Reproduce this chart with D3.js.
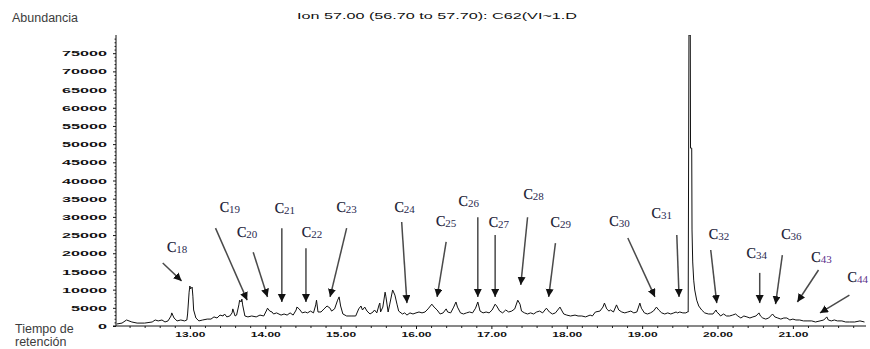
<!DOCTYPE html>
<html><head><meta charset="utf-8">
<script src="https://cdn.jsdelivr.net/npm/d3@7"></script>
<style>html,body{margin:0;padding:0;background:#fff;} svg{display:block;}</style>
</head><body><svg id="chart" width="870" height="349"></svg>
<script>
// ---- data ----
const retentionTimes = [12.03,12.10,12.16,12.23,12.30,12.40,12.50,12.54,12.58,12.63,12.67,12.71,12.75,12.76,12.79,12.83,12.88,12.93,12.96,12.97,12.99,13.00,13.01,13.03,13.04,13.05,13.08,13.12,13.17,13.23,13.28,13.32,13.36,13.40,13.44,13.46,13.49,13.53,13.56,13.57,13.60,13.62,13.65,13.66,13.68,13.69,13.70,13.73,13.77,13.82,13.88,13.93,13.98,14.02,14.03,14.06,14.09,14.11,14.15,14.21,14.25,14.29,14.33,14.37,14.41,14.42,14.45,14.49,14.53,14.56,14.60,14.64,14.67,14.68,14.70,14.74,14.78,14.82,14.86,14.88,14.92,14.96,14.98,15.00,15.03,15.08,15.15,15.20,15.24,15.27,15.29,15.32,15.35,15.39,15.43,15.45,15.48,15.51,15.52,15.53,15.56,15.59,15.60,15.63,15.65,15.69,15.72,15.75,15.77,15.82,15.85,15.88,15.92,15.96,16.00,16.04,16.08,16.12,16.16,16.21,16.24,16.28,16.32,16.36,16.40,16.42,16.46,16.50,16.53,16.55,16.59,16.63,16.67,16.71,16.75,16.79,16.82,16.85,16.89,16.93,16.97,17.01,17.05,17.07,17.11,17.15,17.19,17.23,17.27,17.31,17.35,17.38,17.40,17.44,17.48,17.52,17.56,17.60,17.64,17.68,17.73,17.77,17.81,17.85,17.91,17.93,17.96,18.00,18.05,18.11,18.15,18.20,18.25,18.31,18.34,18.38,18.44,18.48,18.50,18.53,18.56,18.58,18.62,18.66,18.69,18.73,18.77,18.81,18.85,18.89,18.93,18.97,18.99,19.03,19.07,19.11,19.15,19.19,19.22,19.26,19.30,19.34,19.38,19.42,19.45,19.47,19.50,19.54,19.58,19.600,19.611,19.621,19.639,19.642,19.658,19.662,19.671,19.684,19.698,19.724,19.751,19.79,19.83,19.88,19.94,19.98,19.99,20.02,20.04,20.08,20.12,20.16,20.20,20.24,20.27,20.31,20.35,20.39,20.43,20.47,20.51,20.55,20.57,20.60,20.64,20.68,20.73,20.76,20.80,20.84,20.88,20.92,20.96,21.00,21.04,21.09,21.14,21.20,21.25,21.30,21.36,21.41,21.45,21.47,21.51,21.55,21.59,21.65,21.70,21.75,21.82,21.89,21.95];
const abundance = [550,800,1650,1100,800,800,1100,1650,1400,1650,1100,1400,2750,3600,2200,1400,1650,1400,1650,3300,9300,11000,10200,10700,8200,4400,2200,1400,1650,1900,1900,2500,2200,3000,2750,3300,2500,2750,3600,4700,2750,3000,5800,7100,6600,7400,5800,2750,2500,2750,2500,3000,2750,4400,4900,4100,3850,3300,3600,3000,3300,3000,3600,3000,4400,5200,4700,3600,3850,3600,4100,3600,5800,7100,3850,3850,4700,5500,4900,4100,4700,7100,8000,5500,3300,2750,2750,2750,4700,5500,4400,5200,4100,3300,3850,4400,3600,5800,6300,3850,5200,9300,8200,3850,5800,9900,8500,5800,4100,3300,3600,3000,3600,3300,3600,3850,3600,3850,4700,6000,5200,4400,3300,3600,4700,3850,3600,5200,6600,5200,3600,3300,3600,3850,3600,4900,6600,4100,3600,3850,3600,4400,6000,5500,4100,3600,4400,3850,4100,4700,7100,6000,4100,3600,3300,3600,3300,3850,4100,3600,4900,3850,3300,3600,5200,4400,3300,3000,2750,3000,2750,2750,2500,3000,2750,3850,4100,5200,6300,4700,4100,4400,3850,5800,4400,3850,3600,3850,4100,3600,3850,6300,4900,3600,3300,3600,4100,5200,4400,3600,3300,3600,3300,3600,3850,3600,3850,3600,3600,3850,3850,80000,80000,48900,48900,26400,17600,12600,9900,7100,5500,4400,3600,3300,3300,4400,3850,3300,2750,3300,2750,2750,3000,3300,2750,2200,2750,2500,2200,2500,2750,3600,2750,2200,1900,2200,3300,2500,2200,1900,2200,2200,1650,1900,1650,1650,1400,1400,1400,1100,1400,1650,2500,1650,1400,1650,1400,1400,1100,1100,1100,1400,1100];

const xTickValues = [13,14,15,16,17,18,19,20,21];
const xTickLabels = ["13.00","14.00","15.00","16.00","17.00","18.00","19.00","20.00","21.00"];
const yTickValues = [0,5000,10000,15000,20000,25000,30000,35000,40000,45000,50000,55000,60000,65000,70000,75000];
const yTickLabels = ["0","5000","10000","15000","20000","25000","30000","35000","40000","45000","50000","55000","60000","65000","70000","75000"];

const peakNames   = ["18","19","20","21","22","23","24","25","26","27","28","29","30","31","32","34","36","43","44"];
const labelTime   = [12.83,13.53,13.76,14.26,14.62,15.08,15.85,16.40,16.70,17.10,17.56,17.92,18.70,19.26,20.02,20.52,20.98,21.38,21.86];
const labelAbund  = [21700,32700,25800,32400,25800,32700,32700,28800,34300,28600,36300,28600,28800,31000,25300,20100,25300,18900,13500];
const arrowTime0  = [12.64,13.34,13.84,14.22,14.54,15.08,15.81,16.40,16.82,17.05,17.48,17.85,18.81,19.46,19.91,20.56,20.86,21.34,21.75];
const arrowAbund0 = [17300,26900,20300,26900,21400,26900,28600,23100,29900,25000,29900,22800,24200,25000,20900,14600,19500,15400,8500];
const arrowTime1  = [12.89,13.76,14.03,14.22,14.54,14.86,15.88,16.28,16.82,17.05,17.39,17.76,19.17,19.49,19.99,20.56,20.77,21.06,21.36];
const arrowAbund1 = [12400,7100,8000,6600,6600,8000,6300,8000,8000,8000,11300,8000,8000,8000,6300,6300,6000,6600,3600];

const titleText = "Ion  57.00 (56.70 to 57.70): C62(VI~1.D";

// ---- drawing ----
const svg = d3.select("#chart");
const x = d3.scaleLinear().domain([12.02, 21.97]).range([116, 866]);
const y = d3.scaleLinear().domain([0, 80000]).range([326, 35]);

svg.append("defs").append("clipPath").attr("id","plotclip")
  .append("rect").attr("x",116).attr("y",y(80000)).attr("width",752).attr("height",y(0)-y(80000)+1);

const marker = svg.select("defs").append("marker")
  .attr("id","ah").attr("markerUnits","userSpaceOnUse")
  .attr("markerWidth",9).attr("markerHeight",9).attr("refX",8).attr("refY",4)
  .attr("orient","auto");
marker.append("path").attr("d","M0,0 L8,4 L0,8 z").attr("fill","#111");

// title texts
svg.append("text").attr("x",12).attr("y",21.5).text("Abundancia")
  .attr("font-family","Liberation Sans, Arial, sans-serif").attr("font-size",12.5).attr("fill","#3c3c3c");
svg.append("text").attr("x",297).attr("y",19).text(titleText)
  .attr("font-family","Liberation Sans, Arial, sans-serif").attr("font-size",8.5)
  .attr("textLength",280).attr("lengthAdjust","spacingAndGlyphs").attr("fill","#111");
svg.append("text").attr("x",15).attr("y",333).text("Tiempo de")
  .attr("font-family","Liberation Sans, Arial, sans-serif").attr("font-size",12.5).attr("fill","#3c3c3c");
svg.append("text").attr("x",15).attr("y",346).text("retención")
  .attr("font-family","Liberation Sans, Arial, sans-serif").attr("font-size",12.5).attr("fill","#3c3c3c");

// y axis
const yMinor = d3.range(0, 80001, 1000).filter(v => v % 5000 !== 0);
svg.append("g").attr("transform","translate(116,0)")
  .call(d3.axisLeft(y).tickValues(yMinor).tickSize(1.5).tickFormat(""))
  .call(g => g.select(".domain").remove())
  .selectAll("line").attr("stroke","#222");
const yAx = svg.append("g").attr("transform","translate(116,0)")
  .call(d3.axisLeft(y).tickValues(yTickValues).tickSize(3).tickPadding(6)
        .tickFormat((d,i) => yTickLabels[i]));
yAx.select(".domain").attr("d", `M0,${y(80000)}V${y(0)}`).attr("stroke","#111");
yAx.selectAll("line").attr("stroke","#111");
yAx.selectAll("text")
  .attr("font-family","Liberation Sans, Arial, sans-serif").attr("font-weight","bold")
  .attr("font-size",8).attr("fill","#111")
  .attr("textLength", function(){ return this.textContent.length * 9; })
  .attr("lengthAdjust","spacingAndGlyphs");

// x axis
const xMinor = d3.range(12.2, 21.95, 0.2).filter(v => Math.abs(v - Math.round(v)) > 0.01);
svg.append("g").attr("transform",`translate(0,${y(0)})`)
  .call(d3.axisBottom(x).tickValues(xMinor).tickSize(2).tickFormat(""))
  .call(g => g.select(".domain").remove())
  .selectAll("line").attr("stroke","#222");
const xAx = svg.append("g").attr("transform",`translate(0,${y(0)})`)
  .call(d3.axisBottom(x).tickValues(xTickValues).tickSize(3).tickPadding(2.5)
        .tickFormat((d,i) => xTickLabels[i]));
xAx.select(".domain").attr("d", `M${x(12.02)-3},0H${x(21.97)}`).attr("stroke","#111");
xAx.selectAll("line").attr("stroke","#111");
xAx.selectAll("text")
  .attr("font-family","Liberation Sans, Arial, sans-serif").attr("font-weight","bold")
  .attr("font-size",8).attr("fill","#111")
  .attr("textLength",30).attr("lengthAdjust","spacingAndGlyphs");

// trace
const pts = retentionTimes.map((t,i) => [t, abundance[i]]);
svg.append("path").datum(pts)
  .attr("clip-path","url(#plotclip)")
  .attr("fill","none").attr("stroke","#111").attr("stroke-width",1)
  .attr("stroke-linejoin","round")
  .attr("d", d3.line().x(d => x(d[0])).y(d => y(d[1])));

// annotations
const ann = peakNames.map((n,i) => ({n, lt:labelTime[i], la:labelAbund[i],
  t0:arrowTime0[i], a0:arrowAbund0[i], t1:arrowTime1[i], a1:arrowAbund1[i]}));

svg.append("g").selectAll("line").data(ann).join("line")
  .attr("x1", d => x(d.t0)).attr("y1", d => y(d.a0))
  .attr("x2", d => x(d.t1)).attr("y2", d => y(d.a1))
  .attr("stroke","#4a4a4a").attr("stroke-width",1.5)
  .attr("marker-end","url(#ah)");

const lab = svg.append("g").selectAll("text").data(ann).join("text")
  .attr("x", d => x(d.lt)).attr("y", d => y(d.la) + 5)
  .attr("text-anchor","middle")
  .attr("font-family","Liberation Serif, Times New Roman, serif")
  .attr("fill", "#151530");
lab.append("tspan").attr("font-size",14).attr("stroke","#151530").attr("stroke-width",0.25).text("C");
lab.append("tspan").attr("font-size",11).attr("dy",1)
  .attr("fill", d => (d.n === "43" || d.n === "44") ? "#5a2f8a" : "#2a2a50")
  .text(d => d.n);
</script>
</body></html>
